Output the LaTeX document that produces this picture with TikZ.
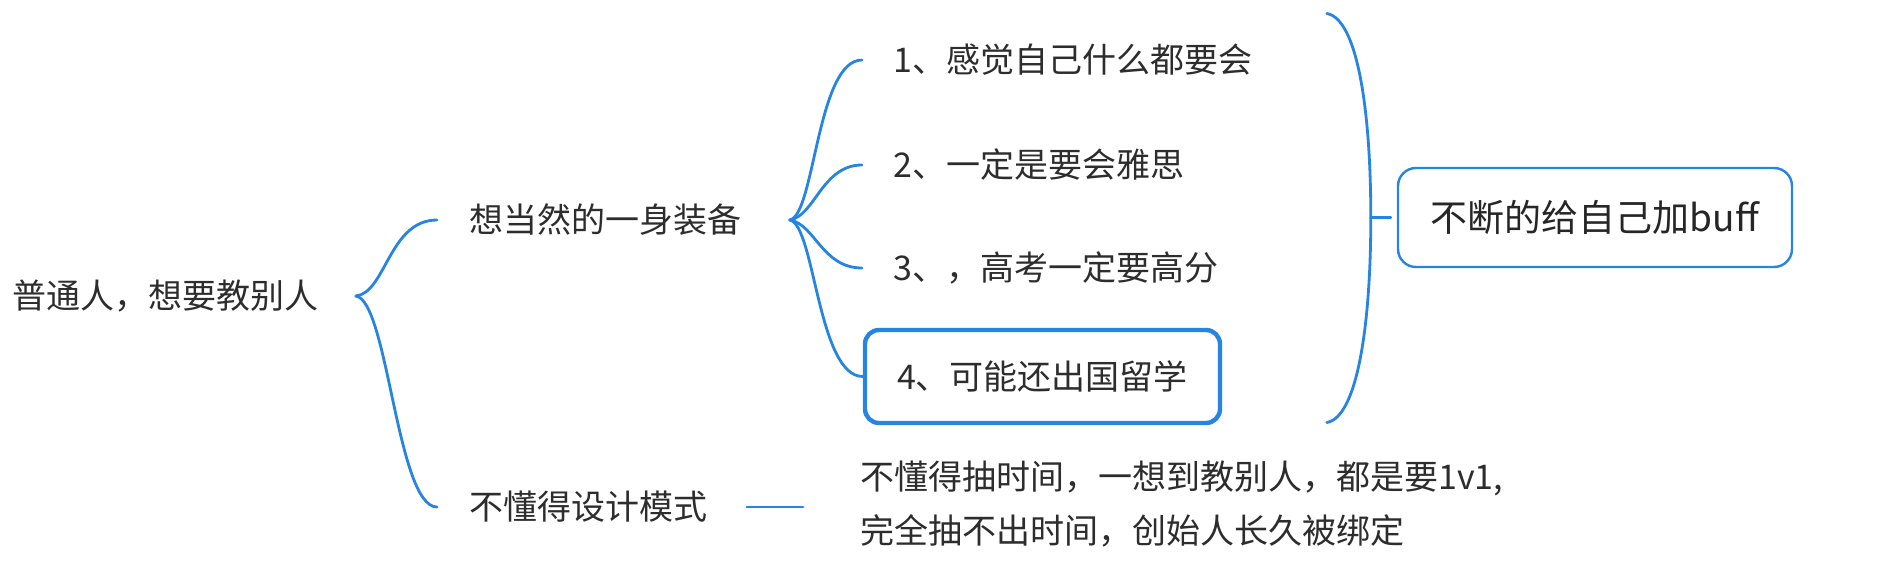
\documentclass[tikz,border=0pt]{standalone}
\usepackage{fontspec}
\setmainfont{Noto Sans CJK SC}
\usetikzlibrary{calc}
\definecolor{lineblue}{RGB}{38,132,226}
\definecolor{txt}{RGB}{45,45,45}
\begin{document}
\begin{tikzpicture}[x=0.5pt,y=-0.5pt,
  lbl/.style={inner sep=0pt, anchor=west, text=txt, font=\fontsize{17pt}{27pt}\selectfont},
  conn/.style={draw=lineblue, line width=1.4pt, line cap=round},
  selbox/.style={draw=lineblue, line width=2.2pt, rounded corners=7pt, text=txt,
    minimum width=177.5pt, minimum height=46.5pt, inner sep=0pt,
    font=\fontsize{17pt}{27pt}\selectfont},
  sumbox/.style={draw=lineblue, line width=1.2pt, rounded corners=9pt, text=black!85,
    minimum width=197pt, minimum height=49.5pt, inner sep=0pt,
    font=\fontsize{18.5pt}{27pt}\selectfont}]
\useasboundingbox (0,0) rectangle (1894,572);
% nodes
\node[lbl] (root) at (12,296) {普通人，想要教别人};
\node[lbl] (b1) at (469,220) {想当然的一身装备};
\node[lbl] (b2) at (469,507) {不懂得设计模式};
\node[lbl] (i1) at (893,60) {1、感觉自己什么都要会};
\node[lbl] (i2) at (893,165) {2、一定是要会雅思};
\node[lbl] (i3) at (893,268) {3、，高考一定要高分};
\node[selbox] (i4) at (1042.5,376.5) {4、可能还出国留学};
\node[sumbox] (sum) at (1595,217.5) {不断的给自己加buff};
\node[lbl, align=left] (bt) at (860,504) {不懂得抽时间，一想到教别人，都是要1v1,\\完全抽不出时间，创始人长久被绑定};
% root brace
\coordinate (rt) at ($(root.east)+(37,0)$);
\coordinate (rA) at ($(b1.west)+(-32,0)$);
\coordinate (rB) at ($(b2.west)+(-32,0)$);
\draw[conn] (rt) .. controls +(30,-3) and +(-48,0) .. (rA);
\draw[conn] (rt) .. controls +(32,4) and +(-40,0) .. (rB);
% branches of b1
\coordinate (bs) at ($(b1.east)+(48,0)$);
\coordinate (e1) at ($(i1.west)+(-31,0)$);
\coordinate (e2) at ($(i2.west)+(-31,0)$);
\coordinate (e3) at ($(i3.west)+(-31,0)$);
\draw[conn] (bs) .. controls +(25,-5) and +(-45,0) .. (e1);
\draw[conn] (bs) .. controls +(25,-4) and +(-40,0) .. (e2);
\draw[conn] (bs) .. controls +(25,4) and +(-40,0) .. (e3);
\draw[conn] (bs) .. controls +(25,5) and +(-45,0) .. (i4.west);
% b2 to text
\coordinate (lA) at ($(b2.east)+(39,0)$);
\coordinate (lB) at ($(bt.west |- b2.east)+(-57,0)$);
\draw[conn] (lA) -- (lB);
% right brace
\coordinate (bm) at ($(sum.west)+(-26,0)$);
\coordinate (bTop) at ($(bm)+(-44,-204)$);
\coordinate (bBot) at ($(bm)+(-44,205)$);
\draw[conn] (bTop) .. controls +(30,5) and +(0,-110) .. (bm) .. controls +(0,110) and +(30,-5) .. (bBot);
\draw[conn] (bm) -- ($(sum.west)+(-6,0)$);
\end{tikzpicture}
\end{document}
